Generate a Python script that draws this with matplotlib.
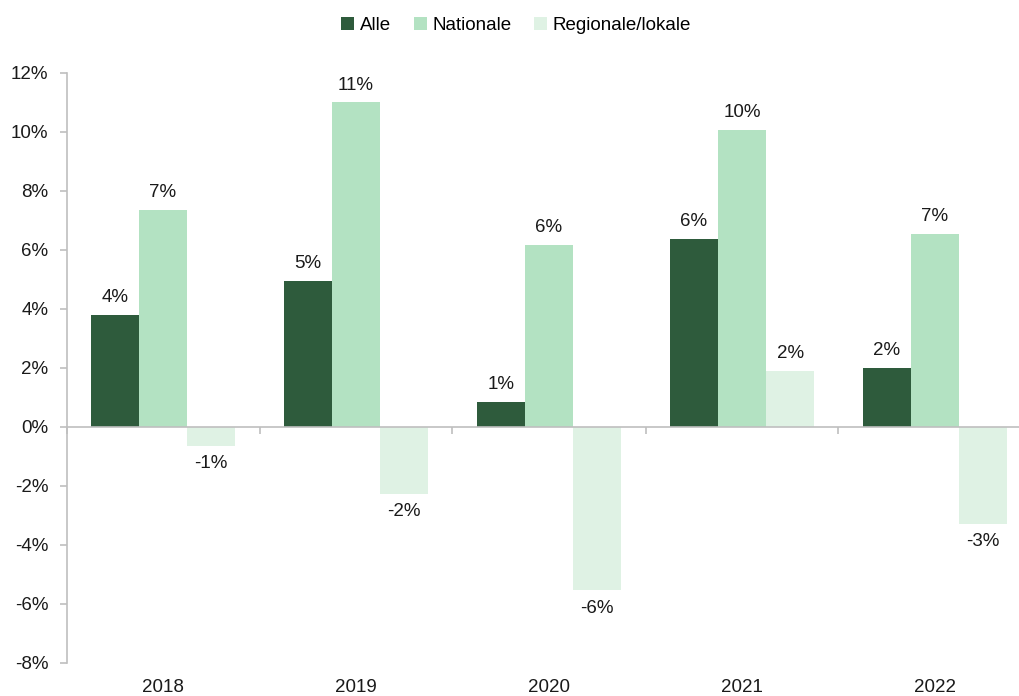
import matplotlib.pyplot as plt
import numpy as np
from matplotlib.transforms import blended_transform_factory

plt.rcParams['font.family'] = ['Liberation Sans', 'DejaVu Sans']

years = ['2018', '2019', '2020', '2021', '2022']
series_names = ['Alle', 'Nationale', 'Regionale/lokale']
alle = [3.8, 4.95, 0.85, 6.37, 2.0]
nationale = [7.36, 11.0, 6.17, 10.07, 6.54]
regionale = [-0.64, -2.27, -5.53, 1.9, -3.29]
colors = ['#2e5b3c', '#b3e2c2', '#dff2e4']

fig = plt.figure(figsize=(10.2, 6.96), dpi=100)
ax = fig.add_axes([66.5 / 1020, 33.3 / 696, 965 / 1020, 590 / 696])

x = np.arange(len(years))
width = 0.25
for i, (name, vals) in enumerate(zip(series_names, [alle, nationale, regionale])):
    pos = x + (i - 1) * width
    ax.bar(pos, vals, width, color=colors[i], label=name, zorder=2)
    for p, v in zip(pos, vals):
        txt = f"{round(v):.0f}%"
        if v >= 0:
            ax.annotate(txt, (p, v), xytext=(0, 6), textcoords='offset points',
                        ha='center', va='bottom', fontsize=13.5, color='#1a1a1a')
        else:
            ax.annotate(txt, (p, v), xytext=(0, -7), textcoords='offset points',
                        ha='center', va='top', fontsize=13.5, color='#1a1a1a')

ax.set_xlim(-0.5, len(years) - 0.5)
ax.set_ylim(-8, 12)
ax.set_yticks(np.arange(-8, 13, 2))
ax.set_yticklabels([f"{t}%" for t in range(-8, 13, 2)], fontsize=13.5, color='#1a1a1a')

# x axis at zero with ticks between categories
ax.spines['bottom'].set_position(('data', 0))
ax.set_xticks(np.arange(-0.5, len(years), 1.0))
ax.set_xticklabels([])
ax.tick_params(axis='x', direction='out', length=5, color='#bfbfbf', width=1.2)
ax.tick_params(axis='y', direction='out', length=5, color='#bfbfbf', width=1.2, pad=8)

trans = blended_transform_factory(ax.transData, ax.transAxes)
for xi, y in zip(x, years):
    ax.text(xi, -0.028, y, transform=trans, ha='center', va='top', fontsize=13.5, color='#1a1a1a')

for s in ['top', 'right']:
    ax.spines[s].set_visible(False)
for s in ['left', 'bottom']:
    ax.spines[s].set_color('#bfbfbf')
    ax.spines[s].set_linewidth(1.2)
ax.spines['bottom'].set_zorder(3)

fig.legend(loc='upper center', bbox_to_anchor=(0.506, 1.0), ncol=3, frameon=False,
           fontsize=13.5, handlelength=0.7, handleheight=0.7, handletextpad=0.3,
           columnspacing=1.2)

fig.savefig('out.png', dpi=100)
